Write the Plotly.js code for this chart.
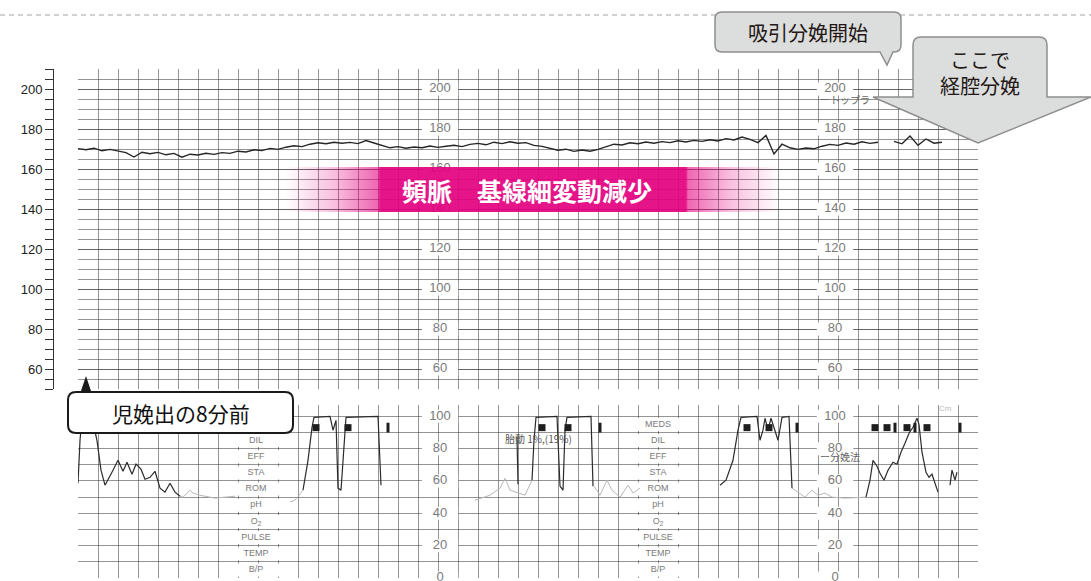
<!DOCTYPE html>
<html>
<head>
<meta charset="utf-8">
<script src="https://cdn.plot.ly/plotly-3.0.1.min.js"></script>
<style>
  html, body { margin: 0; padding: 0; background: #fff; }
  #chart { width: 1091px; height: 581px; }
</style>
</head>
<body>
<div id="chart"></div>
<script>
const W = 1091, H = 581;
const GRID_L = 78, GRID_R = 978;   // paper strip, px
const GRID = 'rgba(60,60,60,0.55)';
const JP = '"Noto Sans CJK JP", "Noto Sans", sans-serif';
const NUM = '"Liberation Sans", Arial, sans-serif';

// fetal heart rate, one reading every 4 s from the left edge of the strip
const fhrStep = 4;
const fhrBpm = [
  170.2, 169.6, 170.4, 169.1, 169.8, 168.9, 168.2, 166.0, 168.4, 167.6,
  168.3, 167.1, 167.8, 165.9, 167.4, 167.0, 167.9, 167.3, 168.2, 167.8,
  168.9, 168.5, 169.6, 169.2, 170.3, 169.8, 170.9, 171.6, 171.2, 172.4,
  173.1, 172.6, 173.4, 172.9, 173.3, 172.7, 174.2, 173.0, 171.8, 170.6,
  171.2, 170.4, 171.0, 170.6, 171.5, 170.8, 171.4, 171.9, 171.2, 172.3,
  172.8, 172.1, 173.4, 172.7, 173.6, 172.9, 173.2, 171.8, 171.3, 170.2,
  169.4, 169.9, 168.8, 169.5, 168.9, 169.8, 171.1, 172.4, 172.0, 173.1,
  172.6, 173.5, 172.9, 173.7, 173.2, 174.1, 173.5, 174.3, 173.8, 174.6,
  174.0, 175.2, 174.5, 176.0, 174.8, 173.2, 176.8, 167.5, 172.4, 170.6,
  169.8, 170.5, 170.1, 171.4, 172.3, 171.8, 173.0, 172.4, 173.6, 172.8,
  173.4, null, 173.8, 172.6, 176.5, 171.8, 175.0, 172.9, 173.4
];

// uterine contraction (seconds, value); null = pen lifted
const ucTime = [
  0, 1, 2, 7, 9.5, 11.5, 13.5, 15.5, 17.5, 20, 22.5, 24.5, 27, 29, 31.5, 33.5, 36, 38.5, 41, 43.5, 46, 48.5, 51, null,
  112.5, 115, 117, 118, 126, 127.5, 129, 130, 131.5, 133, 134, 150, 151.5, null,
  219.5, 220, null,
  227, 228, 229, 239.5, 241, 242.5, 243.5, 244.5, 256.5, 257.5, null,
  321, 324, 327.5, 330, 331.5, 339.5, 341, 342.5, 343.5, 345, 346.5, 350, 352, 355.5, 357, null,
  394, 396, 397.5, 399.5, 401, 403, 405, 407.5, 409.5, 411.5, 413.5, 415.5, 417.5, 419.5, 420.5, 422, 424, 425.5, 427, 428.5, 430, null,
  436, 437, 438.5, 439.5
];
const ucValue = [
  58.6, 85, 99.4, 99.4, 85, 66.7, 57.4, 61.7, 66.7, 72.8, 66, 71.6, 64.2, 70.4, 67.3, 61.1, 62.3, 66, 55.6, 53.1, 58.6, 53.1, 50.6, null,
  54.3, 72.8, 93.2, 99.4, 100, 91.4, 97.5, 55.6, 54.3, 85.2, 99.4, 100, 57.4, null,
  87, 58, null,
  60.5, 85.2, 99.4, 100, 56.8, 54.3, 91.4, 99.4, 100, 56.8, null,
  57.4, 60.5, 72.8, 91.4, 99.4, 100, 85.2, 91.4, 98.8, 91.4, 98.8, 85.2, 99.4, 100, 55.6, null,
  50, 60.5, 72.8, 69.1, 64.8, 60.5, 66.7, 71.6, 70.4, 77.8, 83.3, 89.5, 93.2, 98.8, 95, 77.8, 65.4, 62.3, 64.2, 58, 53.1, null,
  57.4, 66.7, 60.5, 65.4
];
// faint part of the contraction trace
const ucFaintTime = [
  51, 52.5, 56, 57.5, 61, 68.5, 78.5, null,
  106, 108.5, 112.5, null,
  198.5, 206, 211, 213.5, 216, 223.5, 227, null,
  258, 261, 264.5, 267, 271, 275, 277.5, 281, null,
  357, 363.5, 367, 370, 373.5, 377, 383.5, 394
];
const ucFaintValue = [
  50.6, 50, 54.3, 52.5, 51.2, 49.4, 50.6, null,
  47, 48.1, 54.3, null,
  48.1, 51.2, 55.6, 61.7, 54.3, 51.2, 60.5, null,
  56.8, 51.2, 60.5, 54.3, 50, 57.4, 52.5, 55.6, null,
  55.6, 50, 54.3, 51.2, 52.5, 50, 49.4, 50
];

// fetal movement marks
const bigMarkTimes = [119, 135, 232, 245, 334.5, 345.5, 398.5, 404.5, 414.5, 424.5];
const thinMarkTimes = [155, 261, 359.5, 408.5, 418.5, 441];
const markLevel = 93;

const fhrTickLabels = [60, 80, 100, 120, 140, 160, 180, 200];
const ucTickLabels = [0, 20, 40, 60, 80, 100];
const printedScaleTimes = [181, 378.5];
const rowLabels = ['MEDS', 'DIL', 'EFF', 'STA', 'ROM', 'pH', 'O<sub>2</sub>', 'PULSE', 'TEMP', 'B/P'];
const rowLevels = [95, 85, 75, 65, 55, 45, 35, 25, 15, 5];
const rowLabelTimes = [89, 290];

// highlighted period
const bandFrom = 103.5, bandTo = 351, bandHigh = 161, bandLow = 138.5;
const bandText = '頻脈　基線細変動減少';

// px -> paper helpers for the callouts
const px = x => x / W;
const py = y => 1 - y / H;
const path = s => s.replace(/(-?[\d.]+),(-?[\d.]+)/g, (m, x, y) => px(+x).toFixed(5) + ',' + py(+y).toFixed(5));

// printed paper labels: text on a white strip that breaks the grid
function paperText(xs, ys, texts, xa, ya, maskLen, size) {
  return {
    x: xs, y: ys, text: texts, xaxis: xa, yaxis: ya,
    mode: 'markers+text', textposition: 'middle center', cliponaxis: false,
    marker: { symbol: 'line-ew', size: maskLen, color: '#fff', line: { width: 13, color: '#fff' } },
    textfont: { family: NUM, size: size, color: '#7a7a7a' }, hoverinfo: 'skip'
  };
}
const upX = [], upY = [], upT = [], loX = [], loY = [], loT = [], rowX = [], rowY = [], rowT = [];
printedScaleTimes.forEach(t => {
  fhrTickLabels.forEach(v => { upX.push(t); upY.push(v); upT.push(String(v)); });
  ucTickLabels.forEach(v => { loX.push(t); loY.push(v); loT.push(String(v)); });
});
rowLabelTimes.forEach(t => {
  rowLabels.forEach((lab, i) => { rowX.push(t); rowY.push(rowLevels[i]); rowT.push(lab); });
});

const traces = [
  paperText(upX, upY, upT, 'x', 'y', 26, 13),
  paperText(loX, loY, loT, 'x2', 'y2', 26, 13),
  paperText(rowX, rowY, rowT, 'x2', 'y2', 34, 9),
  {
    x: [bandFrom, bandTo, bandTo, bandFrom, bandFrom],
    y: [bandHigh, bandHigh, bandLow, bandLow, bandHigh],
    xaxis: 'x', yaxis: 'y', mode: 'lines', line: { width: 0 },
    fill: 'toself', hoverinfo: 'skip',
    fillgradient: {
      type: 'horizontal',
      colorscale: [
        [0, 'rgba(228,0,127,0)'], [0.1, 'rgba(228,0,127,0.25)'],
        [0.188, 'rgba(228,0,127,0.6)'], [0.192, 'rgba(228,0,127,0.92)'],
        [0.81, 'rgba(228,0,127,0.92)'], [0.814, 'rgba(228,0,127,0.6)'],
        [0.9, 'rgba(228,0,127,0.25)'], [1, 'rgba(228,0,127,0)']
      ]
    }
  },
  {
    x: fhrBpm.map((_, i) => i * fhrStep), y: fhrBpm,
    xaxis: 'x', yaxis: 'y', mode: 'lines',
    line: { color: '#262626', width: 1.4 }
  },
  {
    x: ucFaintTime, y: ucFaintValue, xaxis: 'x2', yaxis: 'y2', mode: 'lines',
    line: { color: '#b8b8b8', width: 1 }
  },
  {
    x: ucTime, y: ucValue, xaxis: 'x2', yaxis: 'y2', mode: 'lines',
    line: { color: '#2b2b2b', width: 1.2 }
  },
  {
    x: bigMarkTimes, y: bigMarkTimes.map(() => markLevel), xaxis: 'x2', yaxis: 'y2',
    mode: 'markers', marker: { symbol: 'square', size: 7, color: '#1e1e1e' }
  },
  {
    x: thinMarkTimes, y: thinMarkTimes.map(() => markLevel), xaxis: 'x2', yaxis: 'y2',
    mode: 'markers', marker: { symbol: 'line-ns', size: 7, color: '#1e1e1e', line: { width: 3, color: '#1e1e1e' } }
  }
];

const centred = { showarrow: false, xanchor: 'center', yanchor: 'middle' };
const annotations = [
  Object.assign({ x: (bandFrom + bandTo) / 2 - 2.7, y: (bandHigh + bandLow) / 2, xref: 'x', yref: 'y',
    text: '<b>' + bandText + '</b>', font: { family: JP, size: 25, color: '#fff' } }, centred),
  Object.assign({ x: 230, y: 86, xref: 'x2', yref: 'y2', text: '胎動 1%,(19%)',
    font: { family: JP, size: 10, color: '#555' } }, centred),
  Object.assign({ x: 383.5, y: 194.5, xref: 'x', yref: 'y', text: 'ートップラ',
    font: { family: JP, size: 10, color: '#666' } }, centred),
  Object.assign({ x: 381, y: 75, xref: 'x2', yref: 'y2', text: 'ー分娩法',
    font: { family: JP, size: 10, color: '#666' } }, centred),
  Object.assign({ x: px(945), y: py(409), xref: 'paper', yref: 'paper', text: 'Cm',
    font: { family: NUM, size: 8, color: '#bbb' } }, centred),
  Object.assign({ x: px(808), y: py(32), xref: 'paper', yref: 'paper', text: '吸引分娩開始',
    font: { family: JP, size: 20, color: '#231815' } }, centred),
  Object.assign({ x: px(980), y: py(59), xref: 'paper', yref: 'paper', text: 'ここで',
    font: { family: JP, size: 20, color: '#231815' } }, centred),
  Object.assign({ x: px(980), y: py(86), xref: 'paper', yref: 'paper', text: '経腔分娩',
    font: { family: JP, size: 20, color: '#231815' } }, centred),
  Object.assign({ x: px(181), y: py(413), xref: 'paper', yref: 'paper', text: '児娩出の8分前',
    font: { family: JP, size: 21, color: '#111' } }, centred)
];

const shapes = [
  { type: 'line', xref: 'paper', yref: 'paper', x0: 0, x1: 1, y0: py(15), y1: py(15),
    line: { color: '#a3a3a3', width: 1, dash: '5px,4px' } },
  { type: 'path', xref: 'paper', yref: 'paper', fillcolor: '#dcdddd',
    line: { color: '#8e8e8e', width: 1.5 },
    path: path('M 722,12 L 894,12 Q 901,12 901,19 L 901,45 Q 901,52 894,52 L 893,52 L 887,65 L 880,52 L 722,52 Q 715,52 715,45 L 715,19 Q 715,12 722,12 Z') },
  { type: 'path', xref: 'paper', yref: 'paper', fillcolor: '#dcdddd',
    line: { color: '#8e8e8e', width: 1.5 },
    path: path('M 921,37 L 1039,37 Q 1047,37 1047,45 L 1047,97 L 1091,97 L 978,143 L 873,97 L 913,97 L 913,45 Q 913,37 921,37 Z') },
  { type: 'path', xref: 'paper', yref: 'paper', fillcolor: '#fff',
    line: { color: '#1a1a1a', width: 2 },
    path: path('M 76,392 L 285,392 Q 293,392 293,400 L 293,425 Q 293,433 285,433 L 76,433 Q 68,433 68,425 L 68,400 Q 68,392 76,392 Z') },
  { type: 'path', xref: 'paper', yref: 'paper', fillcolor: '#1a1a1a', line: { width: 0 },
    path: path('M 81,391 L 86,376 L 91,391 Z') }
];

const stripX = {
  domain: [px(GRID_L), px(GRID_R)], range: [0, 450], tick0: 0, dtick: 10,
  showgrid: true, gridcolor: GRID, gridwidth: 1, showticklabels: false, ticks: '',
  zeroline: false, showline: false, fixedrange: true
};

const layout = {
  width: W, height: H,
  margin: { l: 0, r: 0, t: 0, b: 0 },
  paper_bgcolor: '#fff', plot_bgcolor: '#fff',
  showlegend: false,
  xaxis: Object.assign({ anchor: 'y' }, stripX),
  yaxis: {
    domain: [py(389), py(69)], range: [50, 210],
    anchor: 'free', position: px(53), side: 'left',
    tickmode: 'array', tickvals: fhrTickLabels,
    ticks: 'outside', ticklen: 8, tickcolor: '#333', tickwidth: 1,
    minor: { tick0: 50, dtick: 5, ticks: 'outside', ticklen: 8, tickcolor: '#333', tickwidth: 1,
      showgrid: true, gridcolor: GRID, gridwidth: 1 },
    showline: true, linecolor: '#333', linewidth: 1,
    showgrid: true, gridcolor: GRID, gridwidth: 1, zeroline: false,
    tickfont: { family: NUM, size: 13, color: '#222' }, fixedrange: true
  },
  xaxis2: Object.assign({ anchor: 'y2' }, stripX),
  yaxis2: {
    domain: [py(578), py(405)], range: [0, 107], anchor: 'x2',
    tick0: 0, dtick: 10, showticklabels: false, ticks: '',
    showgrid: true, gridcolor: GRID, gridwidth: 1, zeroline: false, showline: false,
    fixedrange: true
  },
  annotations: annotations,
  shapes: shapes
};

Plotly.newPlot('chart', traces, layout, { displayModeBar: false, staticPlot: true });
</script>
</body>
</html>
